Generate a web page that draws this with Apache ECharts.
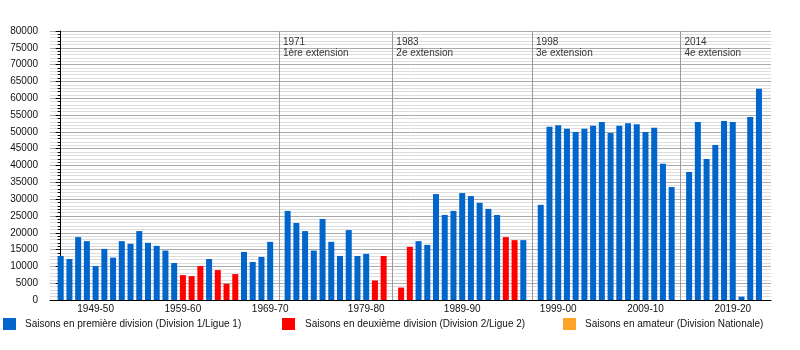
<!DOCTYPE html>
<html>
<head>
<meta charset="utf-8">
<script src="https://cdn.jsdelivr.net/npm/echarts@6/dist/echarts.min.js"></script>
<style>html,body{margin:0;padding:0;background:#fff}#c{width:800px;height:350px}</style>
</head>
<body>
<div id="c"></div>
<script>
// Slots along the x axis (seasons, plus the extension markers that take a slot)
const seasons = [
'1945-46','1946-47','1947-48','1948-49','1949-50','1950-51','1951-52','1952-53','1953-54','1954-55',
'1955-56','1956-57','1957-58','1958-59','1959-60','1960-61','1961-62','1962-63','1963-64','1964-65',
'1965-66','1966-67','1967-68','1968-69','1969-70','1971',
'1970-71','1971-72','1972-73','1973-74','1974-75','1975-76','1976-77','1977-78','1978-79','1979-80',
'1980-81','1981-82','1983',
'1982-83','1983-84','1984-85','1985-86','1986-87','1987-88','1988-89','1989-90','1990-91','1991-92',
'1992-93','1993-94','1994-95','1995-96','1996-97','1998',
'1997-98','1998-99','1999-00','2000-01','2001-02','2002-03','2003-04','2004-05','2005-06','2006-07',
'2007-08','2008-09','2009-10','2010-11','2011-12','2012-13','2014',
'2014-15','2015-16','2016-17','2017-18','2018-19','2019-20','2020-21','2021-22','2022-23'];

// Average attendance per slot
const attendance = [
13100,12200,18700,17500,10100,15200,12600,17500,16700,20500,
17000,16100,14700,11000,7400,7100,10100,12200,8900,4800,
7700,14300,11300,12800,17300,null,
26500,22900,20500,14700,24100,17300,13100,20800,13100,13700,
5800,13100,null,
3700,15800,17500,16400,31500,25300,26500,31800,30900,28900,
27100,25300,18700,17800,17800,null,
28300,51500,52000,50900,50000,50900,51800,52900,49700,51800,
52600,52300,50000,51200,40500,33600,null,
38100,52900,41900,46100,53200,52900,1000,54400,62800];

// Division per slot: 1 = première division, 2 = deuxième division, 3 = amateur, 0 = none
const division = [
1,1,1,1,1,1,1,1,1,1,
1,1,1,1,2,2,2,1,2,2,
2,1,1,1,1,0,
1,1,1,1,1,1,1,1,1,1,
2,2,0,
2,2,1,1,1,1,1,1,1,1,
1,1,2,2,1,0,
1,1,1,1,1,1,1,1,1,1,
1,1,1,1,1,1,0,
1,1,1,1,1,1,1,1,1];

const xTickLabels = ['1949-50','1959-60','1969-70','1979-80','1989-90','1999-00','2009-10','2019-20'];

const markerSlots = ['1971','1983','1998','2014'];
const markerTexts = ['1971\n1ère extension','1983\n2e extension','1998\n3e extension','2014\n4e extension'];

const seriesNames = [
  'Saisons en première division (Division 1/Ligue 1)',
  'Saisons en deuxième division (Division 2/Ligue 2)',
  'Saisons en amateur (Division Nationale)'
];
const seriesColors = ['#0066cc','#ff0000','#ffa326'];

function pointsFor(div) {
  const out = [];
  seasons.forEach((s, i) => {
    if (division[i] === div && attendance[i] != null) out.push([i, attendance[i]]);
  });
  return out;
}

const FONT = 'Liberation Sans';
const chart = echarts.init(document.getElementById('c'), null, {renderer: 'canvas'});

const barSeries = [1, 2, 3].map((d, k) => ({
  name: seriesNames[k],
  type: 'bar',
  data: pointsFor(d),
  barWidth: 6,
  barGap: '-100%',
  itemStyle: {color: seriesColors[k]},
  animation: false
}));

const markerSeries = {
  name: 'markers',
  type: 'scatter',
  symbolSize: 0,
  silent: true,
  data: markerSlots.map((m, i) => ({value: [seasons.indexOf(m), 80000], label: {formatter: markerTexts[i]}})),
  label: {
    show: true,
    position: [4, 6],
    align: 'left',
    verticalAlign: 'top',
    fontFamily: FONT,
    fontSize: 10,
    lineHeight: 11,
    color: '#000'
  },
  markLine: {
    silent: true,
    symbol: ['none', 'none'],
    label: {show: false},
    lineStyle: {color: '#999', type: 'solid', width: 1},
    data: markerSlots.map(m => ({xAxis: seasons.indexOf(m)}))
  },
  animation: false
};

chart.setOption({
  animation: false,
  backgroundColor: '#fff',
  grid: {left: 50, right: 29, top: 31, bottom: 50, containLabel: false},
  xAxis: {
    type: 'value',
    min: -1.226,
    max: 81.38,
    axisLine: {show: true, lineStyle: {color: '#000', width: 1}},
    axisTick: {show: false},
    splitLine: {show: false},
    axisLabel: {
      customValues: xTickLabels.map(s => seasons.indexOf(s)),
      formatter: v => seasons[Math.round(v)] || '',
      fontFamily: FONT, fontSize: 10, color: '#111', margin: 4
    }
  },
  yAxis: {
    type: 'value',
    min: 0, max: 80000, interval: 5000,
    axisLine: {show: true, lineStyle: {color: '#000', width: 1}},
    axisTick: {show: true, length: 5, lineStyle: {color: '#000'}},
    minorTick: {show: true, splitNumber: 5, length: 3, lineStyle: {color: '#000'}},
    splitLine: {show: true, lineStyle: {color: '#aaa', width: 1}},
    minorSplitLine: {show: true, lineStyle: {color: '#ddd', width: 1}},
    axisLabel: {formatter: v => String(v), fontFamily: FONT, fontSize: 10, color: '#111', margin: 12}
  },
  legend: [
    {data: [seriesNames[0]], left: 3, top: 318},
    {data: [seriesNames[1]], left: 282, top: 318},
    {data: [seriesNames[2]], left: 563, top: 318}
  ].map((l, i) => Object.assign(l, {
    padding: 0,
    itemWidth: 13,
    itemHeight: 12,
    icon: 'rect',
    selectedMode: false,
    textStyle: {fontFamily: FONT, fontSize: 10, color: '#111', padding: [0, 0, 0, i === 1 ? 5 : 4]}
  })),
  series: barSeries.concat([markerSeries])
});
</script>
</body>
</html>
